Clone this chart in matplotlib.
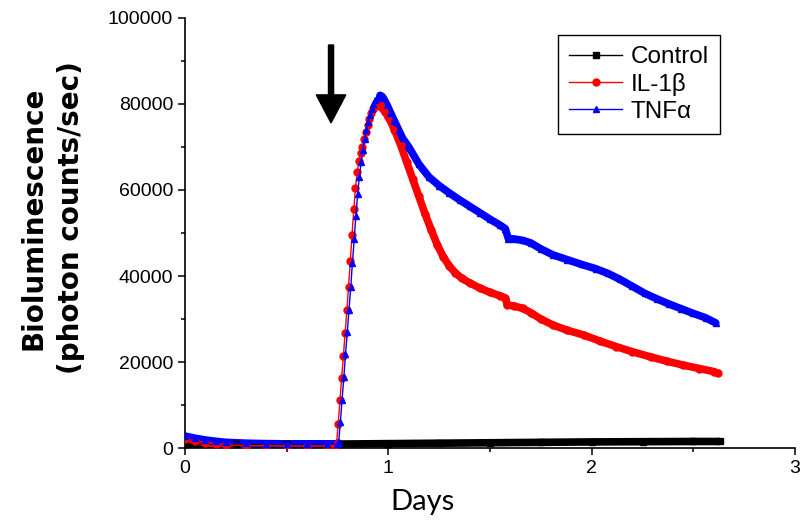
import numpy as np
import matplotlib
matplotlib.use('Agg')
import matplotlib.pyplot as plt
from matplotlib.ticker import MultipleLocator

# ---- data (days, photon counts/sec) ----
ctrl_t = [0.0, 0.25, 0.5, 0.75, 1.0, 1.25, 1.5, 1.75, 2.0, 2.25, 2.5, 2.63]
ctrl_v = [900, 850, 850, 950, 1050, 1150, 1250, 1350, 1450, 1500, 1550, 1550]

il1b_t = [0.0, 0.05, 0.1, 0.15, 0.2, 0.3, 0.4, 0.5, 0.6, 0.7, 0.737,
          0.745, 0.753, 0.762, 0.770, 0.779, 0.787, 0.796, 0.804, 0.813, 0.821,
          0.830, 0.838, 0.847, 0.855, 0.864, 0.872, 0.881, 0.889, 0.898, 0.906,
          0.915, 0.923, 0.932, 0.940, 0.949, 0.957,
          0.966, 0.983, 1.00, 1.03, 1.06, 1.09, 1.12, 1.15, 1.18, 1.21, 1.24,
          1.27, 1.30, 1.33, 1.36, 1.40, 1.45, 1.50, 1.55, 1.575, 1.585, 1.62,
          1.66, 1.70, 1.75, 1.81, 1.88, 1.96, 2.04, 2.12, 2.20, 2.29, 2.37,
          2.45, 2.53, 2.60, 2.62]
il1b_v = [2100, 1700, 1300, 1000, 800, 600, 550, 500, 500, 500, 600,
          1000, 5500, 11200, 16300, 21500, 26700, 32000, 37500, 43500, 49500,
          55500, 60500, 64200, 66800, 68500, 70000, 71800, 73500, 75200, 76600,
          77800, 78800, 79500, 79900, 80100, 80000,
          79300, 78200, 77000, 74000, 70500, 66500, 62500, 58500, 54500, 50800, 47300,
          44500, 42300, 40700, 39500, 38400, 37200, 36200, 35400, 34900, 33300, 33000,
          32500, 31500, 30000, 28600, 27400, 26300, 24900, 23600, 22400, 21200, 20200,
          19300, 18500, 17800, 17400]

tnf_t = [0.0, 0.05, 0.1, 0.15, 0.2, 0.3, 0.4, 0.5, 0.6, 0.7, 0.748,
         0.755, 0.764, 0.772, 0.781, 0.789, 0.798, 0.806, 0.815, 0.823, 0.832,
         0.840, 0.849, 0.857, 0.866, 0.874, 0.883, 0.891, 0.900, 0.908, 0.917,
         0.925, 0.934, 0.942, 0.951, 0.959,
         0.968, 0.976, 0.993, 1.01, 1.03, 1.05, 1.07, 1.10, 1.15, 1.20, 1.25,
         1.30, 1.35, 1.40, 1.45, 1.50, 1.55, 1.575, 1.59, 1.62, 1.66, 1.70,
         1.75, 1.81, 1.88, 1.95, 2.02, 2.08, 2.14, 2.20, 2.26, 2.32, 2.38,
         2.44, 2.50, 2.56, 2.61]
tnf_v = [2800, 2300, 1900, 1600, 1350, 1150, 1050, 1000, 1000, 1000, 1000,
         1200, 6000, 11200, 16500, 21800, 27000, 32000, 37500, 43000, 48500,
         54000, 59000, 63000, 66500, 69300, 71800, 73900, 75800, 77400, 78800,
         79900, 80800, 81400, 81800, 82000,
         81800, 81300, 79800, 78000, 76000, 74000, 72000, 70000, 66000, 63000, 61000,
         59300, 57700, 56200, 54700, 53200, 51800, 51000, 48700, 48600, 48300, 47700,
         46300, 44900, 43800, 42700, 41700, 40600, 39200, 37600, 36000, 34700, 33500,
         32400, 31300, 30300, 29100]

# arrow marking the treatment time
arrow_t = 0.718
arrow_top = 93700
arrow_tip = 75600

label_font = 'Lato'
tick_font = 'Liberation Sans'

fig = plt.figure(figsize=(8.08, 5.26), dpi=100)
ax = fig.add_axes([0.229, 0.148, 0.755, 0.818])


def draw_series(t, v, color, marker, label):
    t = np.asarray(t)
    v = np.asarray(v)
    # dense markers in the original merge into a thick band away from the rise
    if v.max() > 3000:
        peak = np.argmax(v)
        rise = np.argmax(v > 3000)
        ax.plot(t[:rise], v[:rise], color=color, lw=5.5, solid_capstyle='round', zorder=2)
        ax.plot(t[peak:], v[peak:], color=color, lw=5.5, solid_capstyle='round', zorder=2)
    else:
        ax.plot(t, v, color=color, lw=5.5, solid_capstyle='butt', zorder=2)
    ax.plot(t, v, color=color, lw=1, marker=marker, ms=5, mec=color, mfc=color,
            label=label, zorder=3)


draw_series(ctrl_t, ctrl_v, 'black', 's', 'Control')
draw_series(il1b_t, il1b_v, 'red', 'o', 'IL-1\u03b2')
draw_series(tnf_t, tnf_v, 'blue', '^', 'TNF\u03b1')

ax.arrow(arrow_t, arrow_top, 0, arrow_tip - arrow_top, width=0.025,
         head_width=0.145, head_length=6500, length_includes_head=True,
         color='black', zorder=4)

ax.set_xlim(0, 3)
ax.set_ylim(0, 100000)
ax.xaxis.set_major_locator(MultipleLocator(1))
ax.xaxis.set_minor_locator(MultipleLocator(0.5))
ax.yaxis.set_major_locator(MultipleLocator(20000))
ax.yaxis.set_minor_locator(MultipleLocator(10000))

for side in ['top', 'right']:
    ax.spines[side].set_visible(False)
for side in ['left', 'bottom']:
    ax.spines[side].set_linewidth(1.2)

ax.tick_params(which='major', direction='out', length=5, width=1.1, labelsize=14)
ax.tick_params(which='minor', direction='out', length=3, width=1.1)
for lab in ax.get_xticklabels() + ax.get_yticklabels():
    lab.set_fontfamily(tick_font)

ax.set_xlabel('Days', fontsize=21, fontfamily=label_font)
ax.xaxis.set_label_coords(0.39, -0.095)
ax.set_ylabel('Bioluminescence\n(photon counts/sec)', fontsize=20,
              fontweight='bold', fontfamily='DejaVu Sans', linespacing=1.45)
ax.yaxis.set_label_coords(-0.164, 0.535)

leg = ax.legend(loc='upper right', bbox_to_anchor=(0.877, 0.96), borderaxespad=0,
                fancybox=False, framealpha=1, edgecolor='black', handlelength=2.2,
                handletextpad=0.35, borderpad=0.45, labelspacing=0.2,
                prop={'family': tick_font, 'size': 17.5})
leg.get_frame().set_linewidth(1.0)

fig.savefig('out.png', dpi=100)
